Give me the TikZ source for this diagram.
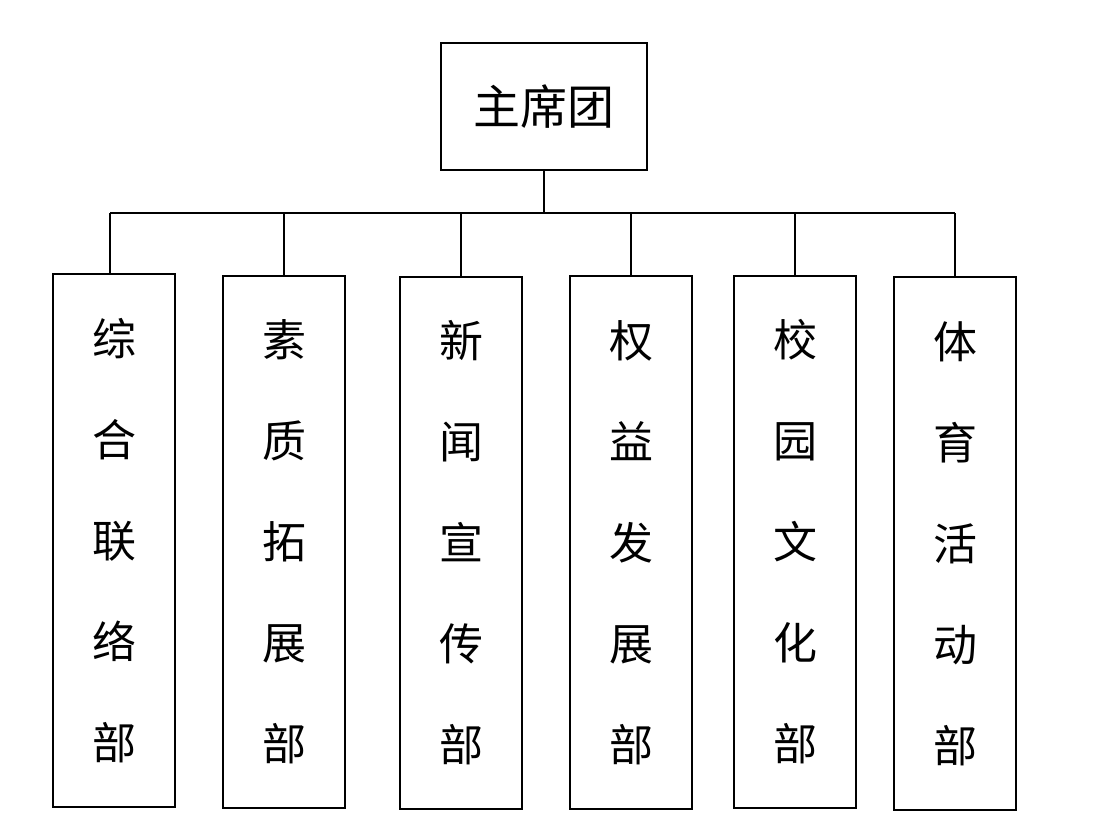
\documentclass[tikz,border=0pt]{standalone}
\usepackage{fontspec}
\newfontfamily\cjk{Noto Sans CJK SC}
\begin{document}
\begin{tikzpicture}[x=1pt,y=-1pt,
  box/.style={draw,line width=1.4pt,inner sep=0pt,align=center,
    font=\cjk\fontsize{44}{101}\selectfont},
  link/.style={line width=1.4pt}]
\useasboundingbox (0,0) rectangle (1095,836);
\node[box,minimum width=206pt,minimum height=127pt,font=\cjk\fontsize{47}{50}\selectfont] (top) at (544,106.5) {主席团};
\node[box,minimum width=122pt,minimum height=533pt] (b1) at (114,540.5) {综\\合\\联\\络\\部};
\node[box,minimum width=122pt,minimum height=532pt] (b2) at (284,542) {素\\质\\拓\\展\\部};
\node[box,minimum width=122pt,minimum height=532pt] (b3) at (461,543) {新\\闻\\宣\\传\\部};
\node[box,minimum width=122pt,minimum height=533pt] (b4) at (631,542.5) {权\\益\\发\\展\\部};
\node[box,minimum width=122pt,minimum height=532pt] (b5) at (795,542) {校\\园\\文\\化\\部};
\node[box,minimum width=122pt,minimum height=533pt] (b6) at (955,543.5) {体\\育\\活\\动\\部};
\coordinate (bar) at (0,213);
\draw[link] (top.south) -- (top.south |- bar);
\draw[link] ([xshift=-4pt]b1.north |- bar) -- (b6.north |- bar);
\draw[link] ([xshift=-4pt]b1.north) -- ([xshift=-4pt]b1.north |- bar);
\foreach \b in {b2,b3,b4,b5,b6}
  \draw[link] (\b.north) -- (\b.north |- bar);
\end{tikzpicture}
\end{document}
